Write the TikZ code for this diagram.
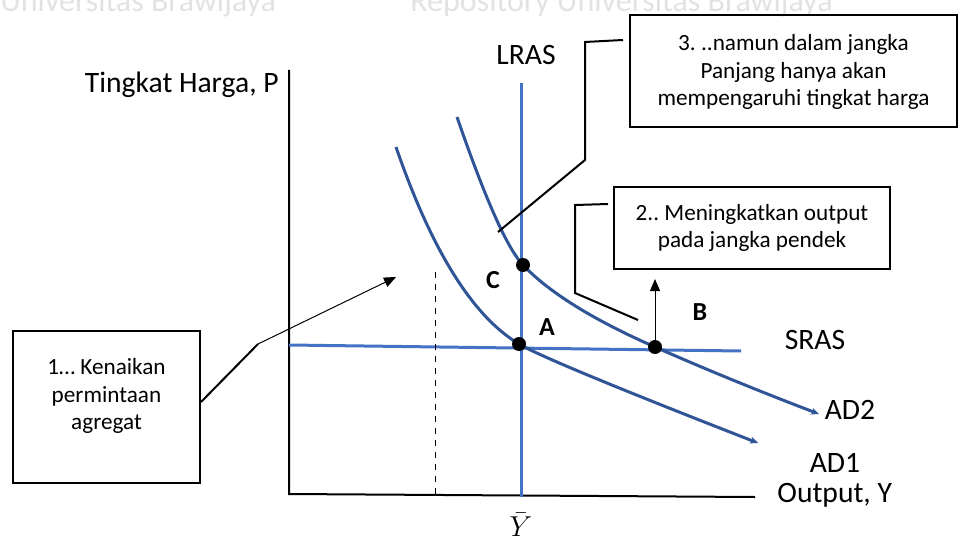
\documentclass[tikz,border=0pt]{standalone}
\usepackage{fontspec}
\setmainfont{Carlito}
\usepackage{xcolor}
\usetikzlibrary{arrows.meta}
\definecolor{adblue}{HTML}{2F5597}
\definecolor{asblue}{HTML}{4472C4}
\definecolor{wmgray}{HTML}{E2E2E2}
\frenchspacing

\begin{document}
\begin{tikzpicture}[x=0.5pt, y=0.5pt,
  box/.style={draw, line width=1pt, inner sep=0pt},
  boxtext/.style={align=center, inner sep=0pt,
    font=\fontsize{11.6}{13.8}\selectfont},
  lbl/.style={inner sep=0pt, font=\fontsize{14.8}{16}\selectfont},
  ptlbl/.style={inner sep=0pt, font=\fontsize{13}{14}\selectfont\bfseries},
  wmtext/.style={anchor=base west, inner sep=0pt, text=wmgray,
    font=\fontsize{16}{18}\selectfont},
  eqdot/.style={circle, fill=black, minimum size=7pt, inner sep=0pt},
  axis/.style={line width=1pt},
  adcurve/.style={adblue, line width=1.5pt, -{Stealth[length=4pt,width=3.5pt]}},
  ascurve/.style={asblue, line width=1.5pt},
  lead/.style={line width=1pt},
  arr/.style={-{Triangle[length=6pt,width=5pt]}, line width=0.5pt}
]
\useasboundingbox (0,0) rectangle (962,547);

\begin{scope}
  \clip (0,0) rectangle (962,547);
  \node[wmtext] (wm1) at (0,535) {Universitas Brawijaya};
  \node[wmtext] (wm2) at (410,535) {Repository Universitas Brawijaya};
\end{scope}

\coordinate (origin) at (289,53);
\coordinate (ytop) at (289,477);
\coordinate (xend) at (755,50);
\draw[axis] (ytop) -- (origin) -- (xend);

\coordinate (lrastop) at (521,464);
\coordinate (lrasbot) at (521,50);
\coordinate (srasl) at (289,202);
\coordinate (srasr) at (741,196);
\draw[ascurve] (lrasbot) -- (lrastop);
\draw[ascurve] (srasl) -- (srasr);

\coordinate (dtop) at (435,275);
\coordinate (dbot) at (435,53);
\draw[dashed, line width=0.5pt] (dtop) -- (dbot);

\coordinate (ad1s) at (396,400);
\coordinate (eqA) at (519,203);
\coordinate (ad1e) at (758,104);
\draw[adcurve] (ad1s) .. controls (431.7,296.4) and (472.7,230.7) .. (eqA)
  .. controls (537.5,191.9) and (617.1,158.9) .. (ad1e);

\coordinate (ad2s) at (457,430);
\coordinate (eqC) at (523,282);
\coordinate (eqB) at (655,200);
\coordinate (ad2e) at (819,133);
\draw[adcurve] (ad2s) .. controls (485.3,347.8) and (507.3,298.5) .. (eqC)
  .. controls (549.1,254.5) and (593.1,227.2) .. (eqB)
  .. controls (707,177.1) and (761.7,154.8) .. (ad2e);

\node[eqdot] (ptA) at (eqA) {};
\node[eqdot] (ptC) at (eqC) {};
\node[eqdot] (ptB) at (eqB) {};
\node[ptlbl] (labA) at (547,220) {A};
\node[ptlbl] (labC) at (493,267) {C};
\node[ptlbl] (labB) at (700,235) {B};

\node[lbl, anchor=east] (ylab) at (279,462) {Tingkat Harga, P};
\node[lbl] (lraslab) at (526,492) {LRAS};
\node[lbl] (sraslab) at (815,207) {SRAS};
\node[lbl] (ad2lab) at (850,137) {AD2};
\node[lbl] (ad1lab) at (835,84) {AD1};
\node[lbl, anchor=west] (xlab) at (777,52) {Output, Y};
\node[inner sep=0pt, font=\fontsize{15.5}{17}\selectfont] (ybar) at (521,22) {$\bar{Y}$};

\node[box, minimum width=93.5pt, minimum height=76pt] (box1) at (106.5,140) {};
\node[boxtext] (box1txt) at (106.5,151) {1… Kenaikan\\permintaan\\agregat};
\node[box, minimum width=138pt, minimum height=41pt] (box2) at (752,319) {};
\node[boxtext] (box2txt) at (752,319) {2.. Meningkatkan output\\pada jangka pendek};
\node[box, minimum width=163.5pt, minimum height=56pt] (box3) at (793.5,476) {};
\node[boxtext] (box3txt) at (793.5,475) {3. ..namun dalam jangka\\Panjang hanya akan\\mempengaruhi tingkat harga};

\coordinate (l1b) at (258,203);
\coordinate (l1c) at (396,270);
\draw[lead] ([yshift=2.5pt]box1.east) -- (l1b);
\draw[arr] (l1b) -- (l1c);

\coordinate (l2a) at (608,343);
\coordinate (l2b) at (575,342);
\coordinate (l2c) at (575,254);
\coordinate (l2d) at (638,227);
\draw[lead] (l2a) -- (l2b) -- (l2c) -- (l2d);

\coordinate (l3a) at (623,507);
\coordinate (l3b) at (585,505);
\coordinate (l3c) at (585,387);
\coordinate (l3d) at (498,315);
\draw[lead] (l3a) -- (l3b) -- (l3c) -- (l3d);

\draw[arr, shorten >=4.5pt] (ptB.center) -- (ptB |- box2.south);
\end{tikzpicture}
\end{document}
